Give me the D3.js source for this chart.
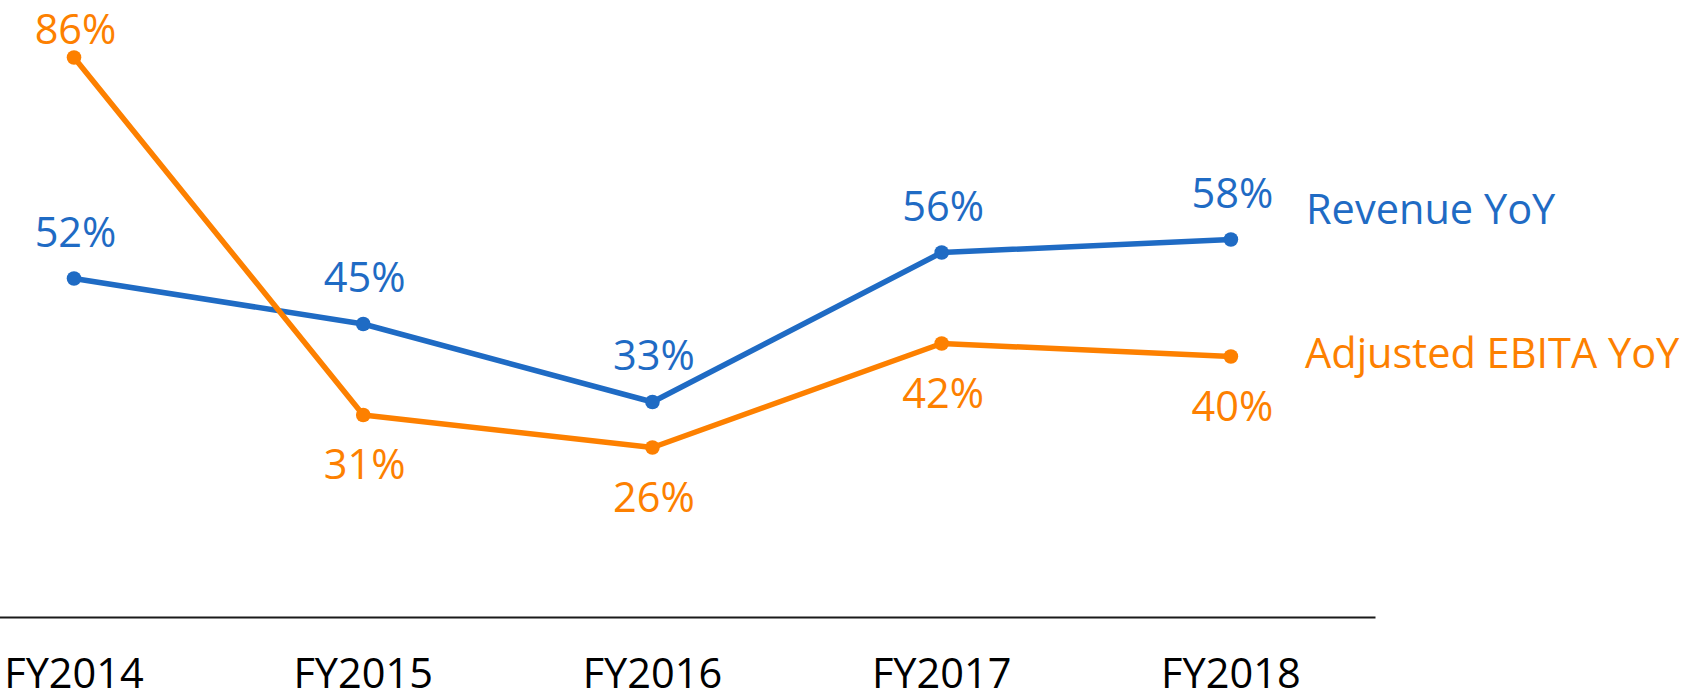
<!DOCTYPE html>
<html>
<head>
<meta charset="utf-8">
<script src="https://cdn.jsdelivr.net/npm/d3@7/dist/d3.min.js"></script>
<style>
  html, body { margin: 0; padding: 0; background: #fff; overflow: hidden; }
  svg { display: block; }
  text { font-family: "Open Sans", "Noto Sans", sans-serif; }
</style>
</head>
<body>
<svg id="chart" width="1689" height="690"></svg>
<script>
// Fiscal years shown along the axis
const years = ["FY2014", "FY2015", "FY2016", "FY2017", "FY2018"];

// Year-over-year growth, in percent
const revenueYoY = [52, 45, 33, 56, 58];
const ebitaYoY = [86, 31, 26, 42, 40];

// Series names as printed beside the lines
const seriesNames = ["Revenue YoY", "Adjusted EBITA YoY"];

const W = 1689, H = 690;
const svg = d3.select("#chart");

const blue = "#1f6bc4";
const orange = "#fd8000";

// The plot spans slightly past the left edge of the page
const x = d3.scalePoint()
  .domain(years)
  .range([-70.6, 1375.5])
  .padding(0.5);

const y = d3.scaleLinear()
  .domain([0, 90])
  .range([616.5, 31.5]);

// Baseline (zero) axis
const axisY = Math.round(y(0)) + 0.5;
svg.append("line")
  .attr("x1", 0)
  .attr("x2", x.range()[1])
  .attr("y1", axisY)
  .attr("y2", axisY)
  .attr("stroke", "#1a1a1a")
  .attr("stroke-width", 2.2);

// Category labels below the axis
svg.append("g")
  .selectAll("text")
  .data(years)
  .join("text")
  .attr("x", d => x(d))
  .attr("y", 688)
  .attr("text-anchor", "middle")
  .attr("font-size", 41.5)
  .attr("fill", "#000")
  .text(d => d);

const line = d3.line()
  .x((d, i) => x(years[i]))
  .y(d => y(d));

const labelFont = 41.5;

// Label goes above the point unless the other series sits higher there
function labelY(v, other) {
  const py = y(v);
  if (v >= other) return Math.max(py - 32, 43.5);
  return py + 64;
}

const series = [
  { name: seriesNames[0], values: revenueYoY, other: revenueYoY.map(() => -Infinity), color: blue },
  { name: seriesNames[1], values: ebitaYoY, other: revenueYoY, color: orange }
];

series.forEach(s => {
  const g = svg.append("g");

  g.append("path")
    .datum(s.values)
    .attr("d", line)
    .attr("fill", "none")
    .attr("stroke", s.color)
    .attr("stroke-width", 5.5)
    .attr("stroke-linejoin", "round");

  g.selectAll("circle")
    .data(s.values)
    .join("circle")
    .attr("cx", (d, i) => x(years[i]))
    .attr("cy", d => y(d))
    .attr("r", 7.3)
    .attr("fill", s.color);

  g.selectAll("text.value")
    .data(s.values)
    .join("text")
    .attr("class", "value")
    .attr("x", (d, i) => x(years[i]) + 1.5)
    .attr("y", (d, i) => labelY(d, s.other[i]))
    .attr("text-anchor", "middle")
    .attr("font-size", labelFont)
    .attr("fill", s.color)
    .text(d => d + "%");
});

// Series names at the right end of each line
svg.append("text")
  .attr("x", 1306)
  .attr("y", 224)
  .attr("font-size", labelFont)
  .attr("fill", blue)
  .text(seriesNames[0]);

svg.append("text")
  .attr("x", 1305)
  .attr("y", 368)
  .attr("font-size", labelFont)
  .attr("fill", orange)
  .text(seriesNames[1]);
</script>
</body>
</html>
